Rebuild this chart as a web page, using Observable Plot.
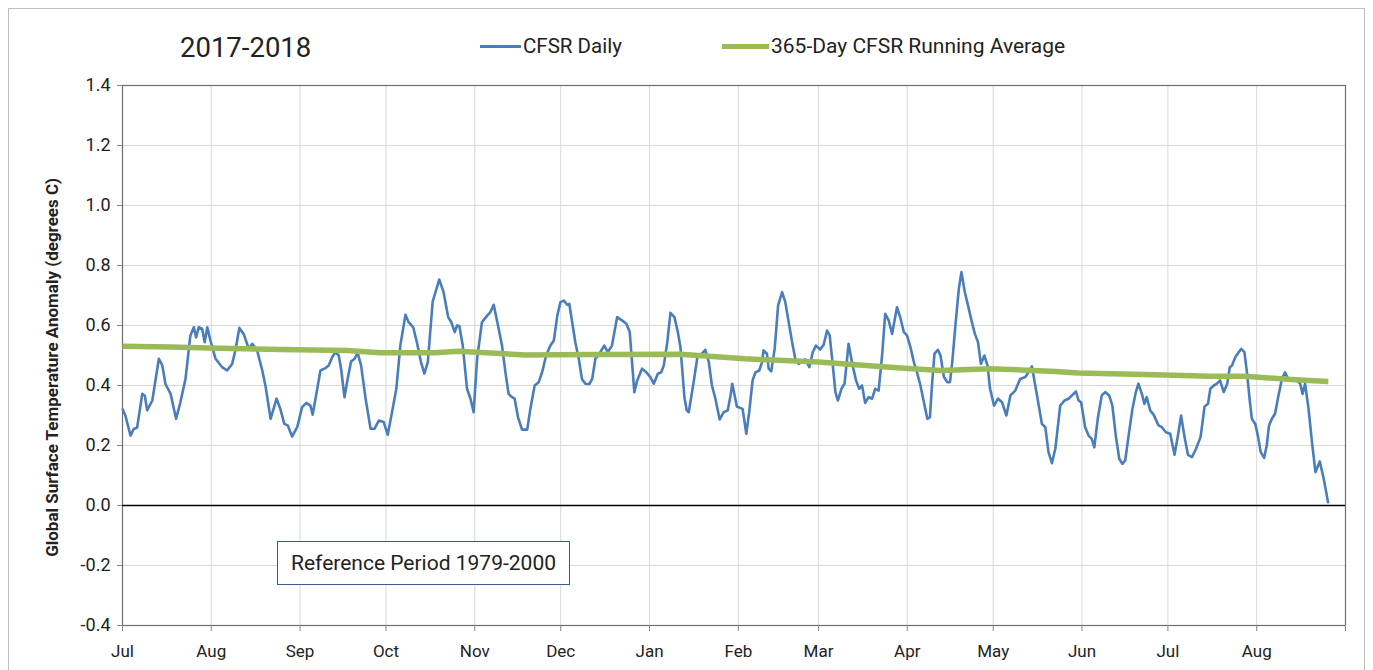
<!DOCTYPE html>
<html><head><meta charset="utf-8">
<script src="https://cdn.jsdelivr.net/npm/d3@7"></script>
<script src="https://cdn.jsdelivr.net/npm/@observablehq/plot@0.6"></script>
<style>
body{margin:0;background:#fff;font-family:Roboto,sans-serif;}
#wrap{position:relative;width:1373px;height:670px;overflow:hidden;background:#fff;}
#wrap svg{position:absolute;left:0;top:0;}
#outer{position:absolute;left:8px;top:8px;width:1357px;height:700px;border:1px solid #bfbfbf;box-sizing:border-box;pointer-events:none;}
.ov{position:absolute;white-space:nowrap;color:#222;line-height:1;}
#title{left:180px;top:34px;font-size:27.5px;}
.sw{position:absolute;}
#refbox{position:absolute;left:277px;top:541px;width:293px;height:44px;border:1.5px solid #385d8a;box-sizing:border-box;background:#fff;font-size:21px;color:#222;display:flex;align-items:center;justify-content:center;white-space:nowrap;}
</style></head>
<body>
<div id="wrap">
  <div id="outer"></div>
  <div id="title" class="ov"></div>
  <div id="sw1" class="sw"></div><div id="lg1" class="ov"></div>
  <div id="sw2" class="sw"></div><div id="lg2" class="ov"></div>
</div>
<script>
// ---- data ----
const titleText = "2017-2018";
const seriesNames = ["CFSR Daily", "365-Day CFSR Running Average"];
const seriesColors = ["#4a7ebb", "#9bbb59"];
const yLabel = "Global Surface Temperature Anomaly (degrees C)";
const refNote = "Reference Period 1979-2000";
const startDate = "2017-07-01";
const endDate = "2018-09-01";
const xTickLabels = ["Jul","Aug","Sep","Oct","Nov","Dec","Jan","Feb","Mar","Apr","May","Jun","Jul","Aug",""];
const yTicks = [-0.4,-0.2,0,0.2,0.4,0.6,0.8,1.0,1.2,1.4];

// daily series: days since 2017-07-01, anomaly (degC)
const dailyDays = [0.1,1,2.8,3.9,5.1,6.9,7.8,8.6,10.4,12.7,13.9,15,16.8,18.7,20.2,22,23.7,24.9,25.7,26.6,27.8,28.7,29.6,30.7,32.5,34.8,36.5,38.3,39.4,40.8,42.3,44.1,45.3,47,48.8,49.9,51.7,53.8,55.1,56.5,57.7,59.2,61,62.7,64.2,65.6,66.4,68,69.1,70.9,72,73.2,74.3,75.5,76.4,77.5,78.6,79.8,81,82.1,83.3,84.8,86.6,88,89.5,91.2,92.6,94.1,95.6,97,98.8,99.9,101.5,102.9,104.2,105.4,106.6,108.3,110.6,112.1,113.7,114.8,116,116.8,117.6,118.8,120.3,121.5,122.6,123.8,125.5,127.3,128.4,129.6,131.1,132.5,133.7,134.8,136,136.9,138.1,139.5,141.3,142.4,143.9,145.3,146.5,147.9,149.4,150.6,151.8,152.9,154.1,155.3,156,157,158.1,159.3,160.4,161.6,163,164,165.1,166.8,168.2,169.4,170.9,172.7,174.4,175.9,177.1,177.9,178.7,179.7,181.4,182.9,184.3,185.5,186.9,188.1,189,190.2,191.3,192.7,193.9,194.8,196.2,197,197.7,199.4,200.8,202.3,203.5,204.7,205.8,207,208.5,209.9,211.3,212.3,212.9,214.5,216.5,217.8,218.8,220,221,222.3,223.3,223.8,225,225.6,226.5,227.7,228.9,230.3,231.4,232.6,234,234.9,236.1,237.3,238.4,239.8,241,242.1,243.6,244.8,246,246.9,248,248.9,249.8,251,252.1,253.5,254.9,256.1,257.2,258.2,259.3,260.5,261.7,262.8,264,265.2,266.3,267.5,268.7,270.4,271.6,272.8,273.9,275.1,276.3,277.4,278.6,279.8,281,281.9,282.7,283.5,284.7,285.6,286.8,288,288.9,289.7,290.9,292,292.9,294.1,295.2,296.4,297.6,298.7,299.7,300.9,302,302.9,304.3,305.7,307.1,308.6,310,311.7,313.4,315.2,316.3,317.5,319.3,321,322.2,323.3,324.5,325.7,327.4,328.9,330.3,331.5,332.9,333.8,334.7,336.1,337.3,338.4,339.3,340.5,341.9,343.1,344.5,345.6,346.8,348,349.1,350.1,351.2,352.6,353.8,354.7,355.9,356.8,357.6,358.8,360,361.7,362.9,364.3,365.8,367.3,368.5,369.6,370.8,372,373.4,374.8,376.4,377.8,379,379.8,381,382.1,383.2,384.5,385.7,386.6,387.4,388.5,389.7,390.6,391.7,392.6,393.5,394.3,395.5,396.4,397.4,398.6,399.5,400.3,401.3,402.4,403.6,404.8,405.9,407.1,408.5,410,411.2,412,412.9,414.1,415.3,416.5,418,419.4,420.9];
const dailyValues = [0.32,0.30,0.233,0.255,0.26,0.372,0.366,0.317,0.35,0.489,0.467,0.405,0.372,0.289,0.344,0.422,0.567,0.594,0.56,0.594,0.589,0.544,0.594,0.55,0.489,0.461,0.45,0.472,0.517,0.592,0.572,0.522,0.539,0.517,0.45,0.40,0.289,0.356,0.322,0.272,0.267,0.23,0.261,0.328,0.342,0.333,0.303,0.389,0.45,0.458,0.467,0.494,0.511,0.5,0.45,0.361,0.422,0.48,0.489,0.509,0.467,0.361,0.256,0.256,0.283,0.278,0.236,0.311,0.389,0.533,0.636,0.611,0.594,0.539,0.478,0.44,0.478,0.68,0.753,0.711,0.628,0.611,0.578,0.6,0.598,0.533,0.389,0.356,0.311,0.489,0.611,0.633,0.644,0.669,0.6,0.533,0.444,0.372,0.361,0.356,0.294,0.253,0.253,0.322,0.4,0.411,0.444,0.5,0.533,0.55,0.633,0.678,0.683,0.669,0.672,0.611,0.544,0.489,0.422,0.406,0.405,0.422,0.489,0.511,0.533,0.511,0.533,0.628,0.617,0.606,0.578,0.478,0.378,0.417,0.456,0.444,0.428,0.406,0.439,0.444,0.467,0.544,0.642,0.628,0.578,0.528,0.36,0.317,0.311,0.411,0.5,0.506,0.519,0.478,0.4,0.356,0.287,0.311,0.317,0.367,0.406,0.33,0.322,0.239,0.311,0.417,0.444,0.45,0.478,0.517,0.506,0.456,0.447,0.522,0.667,0.711,0.678,0.611,0.533,0.489,0.472,0.48,0.487,0.461,0.511,0.533,0.52,0.536,0.583,0.567,0.467,0.378,0.35,0.389,0.406,0.539,0.467,0.417,0.389,0.4,0.342,0.361,0.356,0.389,0.383,0.5,0.639,0.617,0.572,0.661,0.625,0.578,0.567,0.528,0.478,0.444,0.4,0.344,0.289,0.294,0.411,0.506,0.519,0.5,0.428,0.411,0.411,0.478,0.611,0.722,0.778,0.711,0.667,0.617,0.572,0.544,0.472,0.5,0.467,0.389,0.333,0.356,0.344,0.3,0.367,0.383,0.422,0.428,0.444,0.464,0.367,0.272,0.261,0.178,0.141,0.19,0.333,0.35,0.356,0.367,0.38,0.35,0.344,0.261,0.233,0.222,0.194,0.289,0.367,0.378,0.367,0.333,0.233,0.156,0.139,0.15,0.228,0.322,0.378,0.406,0.372,0.339,0.361,0.317,0.303,0.267,0.261,0.244,0.239,0.169,0.233,0.3,0.228,0.169,0.161,0.189,0.228,0.33,0.339,0.389,0.4,0.406,0.417,0.378,0.406,0.461,0.467,0.494,0.511,0.522,0.511,0.444,0.356,0.289,0.272,0.233,0.178,0.159,0.2,0.267,0.289,0.306,0.367,0.422,0.444,0.419,0.419,0.417,0.406,0.372,0.406,0.322,0.211,0.111,0.147,0.089,0.011];

// 365-day running average
const avgDays = [0,16.8,30,55,78.4,90,109,117.4,140.7,163.4,194.8,217.3,243,271.6,285.6,303,325.7,333.7,357,379.8,391.9,409.4,421];
const avgValues = [0.531,0.528,0.525,0.52,0.517,0.509,0.509,0.514,0.502,0.503,0.504,0.489,0.478,0.458,0.45,0.456,0.447,0.442,0.437,0.431,0.431,0.419,0.413];

// ---- build ----
const t0 = new Date(startDate + "T00:00:00Z");
const toDate = d => new Date(+t0 + d * 864e5);
const daily = dailyDays.map((d, i) => ({date: toDate(d), value: dailyValues[i]}));
const avg = avgDays.map((d, i) => ({date: toDate(d), value: avgValues[i]}));
const monthTicks = d3.utcMonth.range(t0, d3.utcDay.offset(new Date(endDate + "T00:00:00Z"), 1));

const chart = Plot.plot({
  width: 1373, height: 670,
  marginLeft: 122, marginRight: 28, marginTop: 85, marginBottom: 45,
  style: {fontFamily: "Roboto, sans-serif", fontSize: "17px", color: "#222", background: "transparent"},
  x: {type: "utc", domain: [t0, new Date(endDate + "T00:00:00Z")]},
  y: {domain: [-0.4, 1.4]},
  marks: [
    Plot.ruleY(yTicks, {stroke: "#d9d9d9", strokeWidth: 1}),
    Plot.ruleX(monthTicks, {stroke: "#d9d9d9", strokeWidth: 1}),
    Plot.frame({stroke: "#6e6e6e", strokeWidth: 1.2}),
    Plot.ruleY([0], {stroke: "#000", strokeWidth: 1.5}),
    Plot.axisY({ticks: yTicks, tickFormat: d => d.toFixed(1), tickSize: 5, tickPadding: 7, fontSize: 18, stroke: "#868686", fill: "#222", label: null}),
    Plot.axisX({ticks: monthTicks, tickFormat: (d, i) => xTickLabels[i] ?? "", tickSize: 6, tickPadding: 13, fontSize: 17, stroke: "#868686", fill: "#222", label: null}),
    Plot.line(daily, {x: "date", y: "value", stroke: seriesColors[0], strokeWidth: 2.6, strokeLinejoin: "round"}),
    Plot.line(avg, {x: "date", y: "value", stroke: seriesColors[1], strokeWidth: 5.5, strokeLinecap: "butt"}),
    Plot.text([yLabel], {frameAnchor: "left", textAnchor: "middle", dx: -70, dy: 12, rotate: -90, fontWeight: "bold", fontSize: 17, fill: "#222"})
  ]
});
const wrap = document.getElementById("wrap");
wrap.insertBefore(chart, wrap.firstChild);

// overlays
document.getElementById("title").textContent = titleText;
const sw1 = document.getElementById("sw1");
Object.assign(sw1.style, {left: "480px", top: "45px", width: "41px", height: "3px", background: seriesColors[0]});
const lg1 = document.getElementById("lg1");
lg1.textContent = seriesNames[0];
Object.assign(lg1.style, {left: "523px", top: "36px", fontSize: "20.5px"});
const sw2 = document.getElementById("sw2");
Object.assign(sw2.style, {left: "722px", top: "44px", width: "47px", height: "5px", background: seriesColors[1]});
const lg2 = document.getElementById("lg2");
lg2.textContent = seriesNames[1];
Object.assign(lg2.style, {left: "771px", top: "36px", fontSize: "21px"});
const rb = document.createElement("div");
rb.id = "refbox"; rb.textContent = refNote;
wrap.appendChild(rb);
</script>
</body></html>
